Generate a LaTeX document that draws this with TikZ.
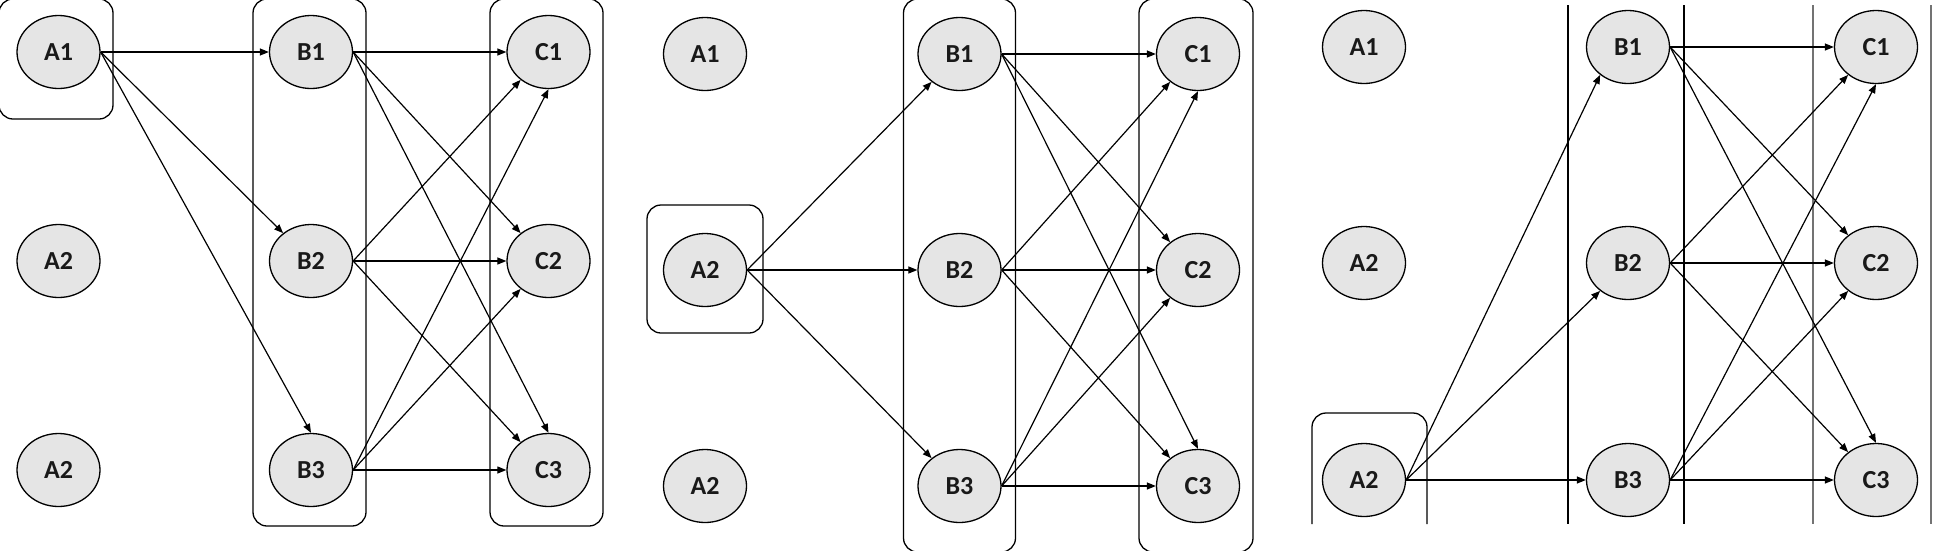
\documentclass[tikz,border=0pt]{standalone}
\usepackage{fontspec}
\newfontfamily\nodefont{Carlito}
\usetikzlibrary{shapes.geometric,arrows.meta}
\tikzset{
  nd/.style={ellipse, draw=black, line width=1.3pt, fill=black!10,
    minimum width=83pt, minimum height=73pt, inner sep=0pt,
    font=\nodefont\bfseries\fontsize{26}{28}\selectfont, text=black!90},
  conn/.style={line width=1.2pt, -{Triangle[length=9pt,width=7pt]}},
  grp/.style={draw=black, line width=1.3pt, rounded corners=14pt},
  bline/.style={draw=black, line width=1.4pt},
  cline/.style={draw=black!55, line width=2.4pt},
}
\begin{document}
\begin{tikzpicture}[x=1pt,y=-1pt]
\useasboundingbox (0,0) rectangle (1938,550);
\clip (0,0) rectangle (1938,550);
% group boxes
\draw[grp] (-1,-1) rectangle (113,119);
\draw[grp] (253,-1) rectangle (366,526);
\draw[grp] (490,-1) rectangle (603,526);
\draw[grp] (647,205) rectangle (763,333);
\draw[grp] (903.5,-1) rectangle (1015.5,552);
\draw[grp] (1139,-1) rectangle (1253,552);
\draw[grp] (1312,524) -- (1312,413) -- (1427,413) -- (1427,524);
\draw[bline] (1568,5) -- (1568,524);
\draw[bline] (1684,5) -- (1684,524);
\draw[cline] (1813,5) -- (1813,524);
\draw[cline] (1931,5) -- (1931,524);
% panel 1
\node[nd] (p1A1) at (58.5,52) {A1};
\node[nd] (p1A2) at (58.5,261) {A2};
\node[nd] (p1A3) at (58.5,470) {A2};
\node[nd] (p1B1) at (311,52) {B1};
\node[nd] (p1B2) at (311,261) {B2};
\node[nd] (p1B3) at (311,470) {B3};
\node[nd] (p1C1) at (548.5,52) {C1};
\node[nd] (p1C2) at (548.5,261) {C2};
\node[nd] (p1C3) at (548.5,470) {C3};
% panel 2
\node[nd] (p2A1) at (705,54) {A1};
\node[nd] (p2A2) at (705,270) {A2};
\node[nd] (p2A3) at (705,486) {A2};
\node[nd] (p2B1) at (959.5,54) {B1};
\node[nd] (p2B2) at (959.5,270) {B2};
\node[nd] (p2B3) at (959.5,486) {B3};
\node[nd] (p2C1) at (1198,54) {C1};
\node[nd] (p2C2) at (1198,270) {C2};
\node[nd] (p2C3) at (1198,486) {C3};
% panel 3
\node[nd] (p3A1) at (1364,47) {A1};
\node[nd] (p3A2) at (1364,263) {A2};
\node[nd] (p3A3) at (1364,480) {A2};
\node[nd] (p3B1) at (1628,47) {B1};
\node[nd] (p3B2) at (1628,263) {B2};
\node[nd] (p3B3) at (1628,480) {B3};
\node[nd] (p3C1) at (1876,47) {C1};
\node[nd] (p3C2) at (1876,263) {C2};
\node[nd] (p3C3) at (1876,480) {C3};
% A -> B connectors
\draw[conn] (p1A1.east) -- (p1B1.west);
\draw[conn] (p1A1.east) -- (p1B2.135);
\draw[conn] (p1A1.east) -- (p1B3.north);
\draw[conn] (p2A2.east) -- (p2B1.225);
\draw[conn] (p2A2.east) -- (p2B2.west);
\draw[conn] (p2A2.east) -- (p2B3.135);
\draw[conn] (p3A3.east) -- (p3B1.225);
\draw[conn] (p3A3.east) -- (p3B2.225);
\draw[conn] (p3A3.east) -- (p3B3.west);
% B -> C connectors
\foreach \p in {1,2,3} {
  \draw[conn] (p\p B1.east) -- (p\p C1.west);
  \draw[conn] (p\p B1.east) -- (p\p C2.135);
  \draw[conn] (p\p B1.east) -- (p\p C3.north);
  \draw[conn] (p\p B2.east) -- (p\p C1.225);
  \draw[conn] (p\p B2.east) -- (p\p C2.west);
  \draw[conn] (p\p B2.east) -- (p\p C3.135);
  \draw[conn] (p\p B3.east) -- (p\p C1.south);
  \draw[conn] (p\p B3.east) -- (p\p C2.225);
  \draw[conn] (p\p B3.east) -- (p\p C3.west);
}
\end{tikzpicture}
\end{document}
